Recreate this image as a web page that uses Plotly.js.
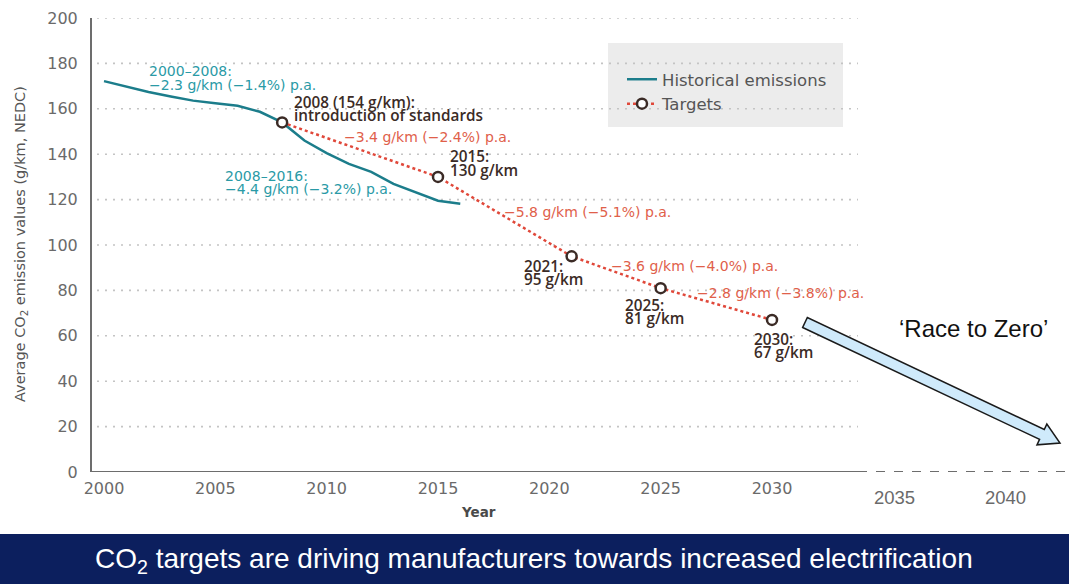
<!DOCTYPE html>
<html>
<head>
<meta charset="utf-8">
<script src="https://cdn.plot.ly/plotly-3.0.1.min.js"></script>
<style>
html,body{margin:0;padding:0;background:#fff;}
#chart{width:1069px;height:584px;}
</style>
</head>
<body>
<div id="chart"></div>
<script>
// ---- data ----
const histYears = [2000, 2001, 2002, 2003, 2004, 2005, 2006, 2007, 2008, 2009, 2010, 2011, 2012, 2013, 2014, 2015, 2016];
const histValues = [172.2, 169.7, 167.4, 165.4, 163.6, 162.4, 161.3, 158.7, 154.0, 146.0, 140.5, 135.7, 132.2, 126.9, 123.2, 119.5, 118.2];
const targetYears = [2008, 2015, 2021, 2025, 2030];
const targetValues = [154, 130, 95, 81, 67];
const xTickVals = [2000, 2005, 2010, 2015, 2020, 2025, 2030];
const extraTicks = [2035, 2040];
const yTickVals = [0, 20, 40, 60, 80, 100, 120, 140, 160, 180, 200];

// ---- pixel geometry helpers ----
const L = 92, R = 1069, T = 18, B = 472;
const x0px = 104, pxPerYear = 22.267;
const X = px => 2000 + (px - x0px) / pxPerYear;
const yPer = (B - T) / 200;
const Y = py => (B - py) / yPer;
const PX = px => (px - L) / (R - L);
const PY = py => (B - py) / (B - T);

const FONT = 'DejaVu Sans, sans-serif';
const FONT2 = 'Open Sans, Noto Sans, sans-serif';
const teal = '#2a9aa6';
const red = '#e0604a';
const dark = '#3b2b26';

const traces = [
  {x: histYears, y: histValues, name: 'Historical emissions', type: 'scatter', mode: 'lines',
   line: {color: '#1c7d8b', width: 2.5}},
  {x: targetYears, y: targetValues, name: 'Targets', type: 'scatter', mode: 'lines+markers',
   line: {color: '#e0483a', width: 2.5, dash: 'dot'},
   marker: {symbol: 'circle', size: 10, color: '#ffffff', line: {color: dark, width: 2.5}}}
];

const shapes = [];
// legend box
shapes.push({type: 'rect', xref: 'paper', yref: 'paper', x0: PX(608), x1: PX(843), y0: PY(43), y1: PY(127),
  fillcolor: '#ececec', line: {width: 0}, layer: 'below'});
// dotted gridlines (stop before the extension)
yTickVals.filter(v => v > 0).forEach(v => {
  shapes.push({type: 'line', xref: 'paper', yref: 'y', x0: PX(97), x1: PX(858), y0: v, y1: v,
    line: {color: '#c4c4c4', width: 1.6, dash: '2px,6px'}, layer: 'below'});
});
// x axis: solid part + dashed extension
shapes.push({type: 'line', xref: 'paper', yref: 'y', x0: PX(91), x1: PX(858), y0: 0, y1: 0,
  line: {color: '#6d6d6d', width: 2}});
shapes.push({type: 'line', xref: 'paper', yref: 'y', x0: PX(858), x1: PX(1069), y0: 0, y1: 0,
  line: {color: '#6d6d6d', width: 2, dash: 'dash'}});
// bottom banner
shapes.push({type: 'rect', xref: 'paper', yref: 'paper', x0: PX(0), x1: PX(1069), y0: PY(534), y1: PY(584),
  fillcolor: '#0c1f5e', line: {width: 0}});
// Race to Zero block arrow
(function(){
  const t = [805, 322.5], p = [1060, 443];
  const dx = p[0]-t[0], dy = p[1]-t[1], len = Math.hypot(dx, dy);
  const u = [dx/len, dy/len], n = [-u[1], u[0]];
  const w = 5.5, hw = 11.5, hl = 20;
  const h = [p[0]-u[0]*hl, p[1]-u[1]*hl];
  const pts = [
    [t[0]+n[0]*w, t[1]+n[1]*w], [h[0]+n[0]*w, h[1]+n[1]*w], [h[0]+n[0]*hw, h[1]+n[1]*hw], p,
    [h[0]-n[0]*hw, h[1]-n[1]*hw], [h[0]-n[0]*w, h[1]-n[1]*w], [t[0]-n[0]*w, t[1]-n[1]*w]
  ];
  const path = pts.map((q, i) => (i ? 'L' : 'M') + PX(q[0]).toFixed(5) + ',' + PY(q[1]).toFixed(5)).join(' ') + ' Z';
  shapes.push({type: 'path', xref: 'paper', yref: 'paper', path: path, fillcolor: '#cfeafb', line: {color: '#1a1a1a', width: 1.5}});
})();

const annotations = [];
function txt(text, px, py, color, opts) {
  opts = opts || {};
  annotations.push({xref: 'x', yref: 'y', x: X(px), y: Y(py), text: text, showarrow: false,
    xanchor: opts.xanchor || 'left', yanchor: 'middle',
    font: {family: opts.family || FONT, size: opts.size || 14, color: color, weight: opts.weight || 400}});
}
const D = {family: FONT2, size: 15.3, weight: 600};
txt('2000–2008:', 147, 71, teal);
txt('−2.3 g/km (−1.4%) p.a.', 147, 85, teal);
txt('2008 (154 g/km):', 292, 102, dark, D);
txt('introduction of standards', 292, 115, dark, D);
txt('−3.4 g/km (−2.4%) p.a.', 342, 137, red);
txt('2015:', 448, 156, dark, D);
txt('130 g/km', 448, 170, dark, D);
txt('2008–2016:', 223, 176, teal);
txt('−4.4 g/km (−3.2%) p.a.', 223, 189, teal);
txt('−5.8 g/km (−5.1%) p.a.', 502, 212, red);
txt('2021:', 522, 266, dark, D);
txt('95 g/km', 522, 279, dark, D);
txt('−3.6 g/km (−4.0%) p.a.', 609, 266, red);
txt('−2.8 g/km (−3.8%) p.a.', 695, 293, red);
txt('2025:', 623, 305, dark, D);
txt('81 g/km', 623, 318, dark, D);
txt('2030:', 752, 339, dark, D);
txt('67 g/km', 752, 352, dark, D);

// extension tick labels (different font)
extraTicks.forEach(v => {
  annotations.push({xref: 'x', yref: 'paper', x: v + 0.5, y: PY(497), text: String(v), showarrow: false,
    xanchor: 'center', yanchor: 'middle', font: {family: 'Liberation Sans, Arial, sans-serif', size: 18.5, color: '#6a6a6a'}});
});
// Race to Zero label
annotations.push({xref: 'paper', yref: 'paper', x: PX(973), y: PY(328), text: '‘Race to Zero’', showarrow: false,
  xanchor: 'center', yanchor: 'middle', font: {family: 'Liberation Sans, Arial, sans-serif', size: 24, color: '#111'}});
// axis titles
annotations.push({xref: 'paper', yref: 'paper', x: PX(478), y: PY(512), text: 'Year', showarrow: false,
  xanchor: 'center', yanchor: 'middle', font: {family: FONT, size: 13.5, color: '#4a4a4a', weight: 700}});
annotations.push({xref: 'paper', yref: 'paper', x: PX(21), y: PY(244), text: 'Average CO<sub>2</sub> emission values (g/km, NEDC)',
  showarrow: false, textangle: -90, xanchor: 'center', yanchor: 'middle', font: {family: FONT, size: 14.5, color: '#555'}});
// banner text
annotations.push({xref: 'paper', yref: 'paper', x: PX(534), y: PY(560), text: 'CO<sub>2</sub> targets are driving manufacturers towards increased electrification',
  showarrow: false, xanchor: 'center', yanchor: 'middle', font: {family: 'Liberation Sans Narrow, Arial Narrow, Liberation Sans, sans-serif', size: 28, color: '#ffffff'}});

const layout = {
  width: 1069, height: 584,
  margin: {l: L, r: 1069 - R, t: T, b: 584 - B, pad: 0},
  paper_bgcolor: '#ffffff', plot_bgcolor: 'rgba(0,0,0,0)',
  showlegend: true,
  legend: {x: PX(622), y: PY(62), xanchor: 'left', yanchor: 'top', bgcolor: 'rgba(0,0,0,0)',
    font: {family: FONT, size: 16.5, color: '#555'}, itemwidth: 30, tracegroupgap: 0},
  xaxis: {range: [X(L), X(R)], tickvals: xTickVals, ticks: '', showgrid: false, zeroline: false, showline: false,
    tickfont: {family: FONT, size: 16, color: '#6a6a6a'}, ticklabelstandoff: 5, fixedrange: true},
  yaxis: {range: [0, 200], tickvals: yTickVals, ticks: '', showgrid: false, zeroline: false,
    showline: true, linecolor: '#6d6d6d', linewidth: 2,
    tickfont: {family: FONT, size: 16, color: '#6a6a6a'}, ticklabelstandoff: 9, fixedrange: true},
  shapes: shapes,
  annotations: annotations
};

Plotly.newPlot('chart', traces, layout, {displayModeBar: false, staticPlot: true});
</script>
</body>
</html>
